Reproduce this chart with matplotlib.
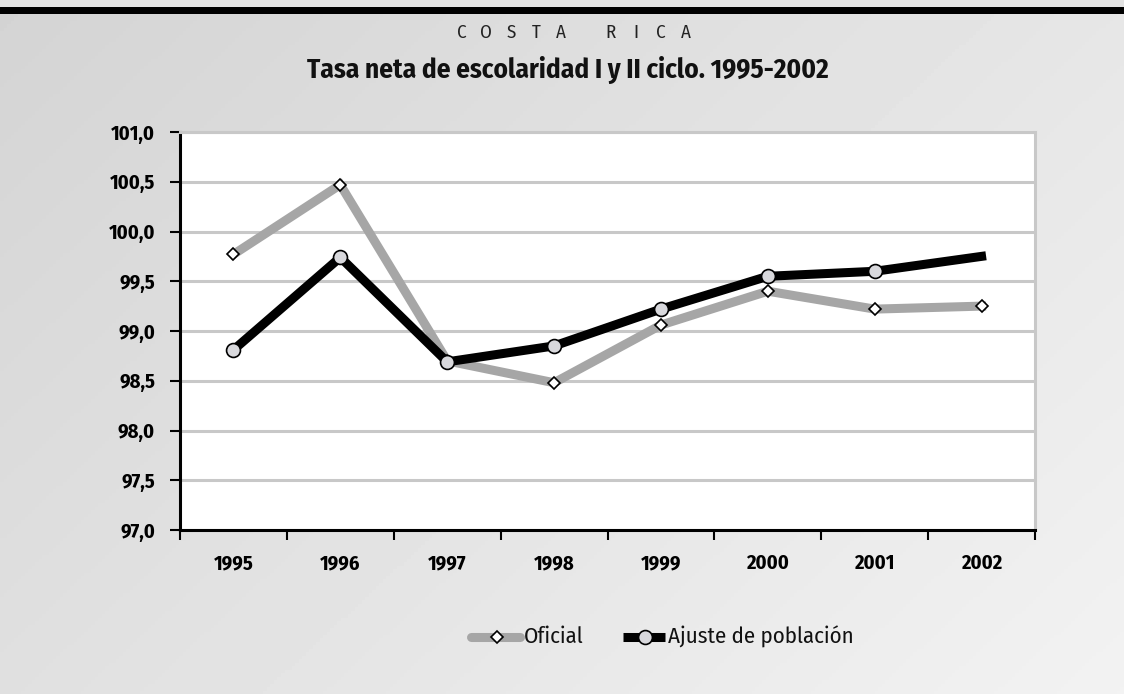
import numpy as np
import matplotlib
matplotlib.use("Agg")
import matplotlib.pyplot as plt
from matplotlib.lines import Line2D
from matplotlib import font_manager
from matplotlib.font_manager import FontProperties
from matplotlib.textpath import TextPath

years = ["1995", "1996", "1997", "1998", "1999", "2000", "2001", "2002"]
oficial = [99.77, 100.47, 98.70, 98.48, 99.06, 99.40, 99.22, 99.25]
ajuste = [98.81, 99.74, 98.69, 98.85, 99.22, 99.55, 99.60, 99.75]
yticks = [97.0, 97.5, 98.0, 98.5, 99.0, 99.5, 100.0, 100.5, 101.0]
ytick_labels = ["97,0", "97,5", "98,0", "98,5", "99,0", "99,5", "100,0", "100,5", "101,0"]
series_names = ["Oficial", "Ajuste de población"]
header = "COSTA RICA"
title = "Tasa neta de escolaridad I y II ciclo. 1995-2002"


def _w(f):
    try:
        return int(f.weight)
    except Exception:
        return {"normal": 400, "regular": 400, "bold": 700}.get(str(f.weight), 400)


entries = font_manager.fontManager.ttflist
def has(fam, w):
    return any(f.name == fam and f.style == "normal" and _w(f) == w for f in entries)

candidates = ["Fira Sans Condensed", "PT Sans Narrow", "Roboto Condensed", "Archivo Narrow",
              "Asap Condensed", "Encode Sans Condensed", "IBM Plex Sans Condensed",
              "Liberation Sans Narrow", "Open Sans"]
COND = next((c for c in candidates if has(c, 400) and has(c, 700)), "Open Sans")
FAM = [COND, "DejaVu Sans"]
plt.rcParams['font.family'] = FAM

DPI = 100
def ink(txt, weight, size):
    tp = TextPath((0, 0), txt, size=size, prop=FontProperties(family=FAM, weight=weight))
    bb = tp.get_extents()
    return bb.width * DPI / 72, bb.height * DPI / 72

def fit_width(txt, weight, target):
    w, _ = ink(txt, weight, 20)
    return 20 * target / w

def fit_height(txt, weight, target):
    _, h = ink(txt, weight, 20)
    return 20 * target / h

title_fs = fit_width(title, "bold", 521)
tick_fs = fit_width("1995", "bold", 39)
legend_fs = fit_width(series_names[1], "normal", 184)
header_fs = fit_height("H", "normal", 13)

fig = plt.figure(figsize=(11.24, 6.94), dpi=DPI)
W_, H_ = 1124, 694
def fx(px): return px / W_
def fy(py): return 1 - py / H_

# background gradient
bg = fig.add_axes([0, 0, 1, 1], zorder=-10)
gh, gw = 200, 320
yy, xx = np.mgrid[0:gh, 0:gw]
t = (xx / gw * 0.6 + yy / gh * 0.4)
grad = 0.83 + 0.12 * t
bg.imshow(grad, cmap="gray", vmin=0, vmax=1, aspect="auto", extent=[0, 1, 0, 1], origin="upper")
bg.set_xlim(0, 1); bg.set_ylim(0, 1)
bg.axis("off")
bg.add_patch(plt.Rectangle((0, fy(14)), 1, 7 / H_, color="black", lw=0))
bg.add_patch(plt.Rectangle((0, fy(7)), 1, 7 / H_, color="#e2e2e2", lw=0))

# spaced header letters
slot = 0
xs0, step = 461.5, 24.9
for ch in header:
    if ch == " ":
        slot += 1.0
        continue
    fig.text(fx(xs0 + step * slot), fy(33), ch, ha="center", va="center",
             fontsize=header_fs, color="#222222")
    slot += 1
fig.text(fx(567.5), fy(70), title, ha="center", va="center",
         fontsize=title_fs, fontweight="bold", color="#111111")

ax = fig.add_axes([fx(180), fy(530), 855 / W_, 398 / H_])
ax.set_facecolor("white")
x = np.arange(len(years))
ax.plot(x, oficial, color="#a6a6a6", lw=6.5, solid_joinstyle="miter", zorder=3)
ax.plot(x, oficial, ls="none", marker="D", ms=6.5, mfc="white", mec="black", mew=1.2, zorder=4)
ax.plot(x, ajuste, color="black", lw=6.5, solid_joinstyle="miter", zorder=5)
ax.plot(x[:-1], ajuste[:-1], ls="none", marker="o", ms=10, mfc="#d8d8dc", mec="black", mew=1.2, zorder=6)

ax.set_xlim(-0.5, len(years) - 0.5)
ax.set_ylim(97.0, 101.0)
ax.set_yticks(yticks)
ax.set_yticklabels(ytick_labels, fontsize=tick_fs, fontweight="bold")
ax.yaxis.grid(True, color="#c8c8c8", lw=2.2)
ax.set_axisbelow(True)
ax.set_xticks(np.arange(len(years) + 1) - 0.5)
ax.set_xticklabels([])
ax.set_xticks(x, minor=True)
ax.set_xticklabels(years, minor=True, fontsize=tick_fs, fontweight="bold")
ax.tick_params(axis="x", which="minor", length=0, pad=17)
ax.tick_params(axis="x", which="major", length=7, width=1.5, direction="out")
ax.tick_params(axis="y", length=7, width=1.5, direction="out", pad=11)
for s in ["left", "bottom"]:
    ax.spines[s].set_color("black")
    ax.spines[s].set_linewidth(2.2)
for s in ["right", "top"]:
    ax.spines[s].set_color("#c8c8c8")
    ax.spines[s].set_linewidth(2.2)

# legend drawn manually in figure coordinates
ly = fy(637)
bg.add_line(Line2D([fx(471), fx(520)], [ly, ly], color="#a6a6a6", lw=6.5, solid_capstyle="round"))
bg.add_line(Line2D([fx(497)], [ly], ls="none", marker="D", ms=6, mfc="white", mec="black", mew=1.2))
fig.text(fx(524), ly, series_names[0], ha="left", va="center", fontsize=legend_fs, color="#111111")
bg.add_line(Line2D([fx(623), fx(665)], [ly, ly], color="black", lw=6.5, solid_capstyle="butt"))
bg.add_line(Line2D([fx(645)], [ly], ls="none", marker="o", ms=10, mfc="#d8d8dc", mec="black", mew=1.2))
fig.text(fx(668), ly, series_names[1], ha="left", va="center", fontsize=legend_fs, color="#111111")

fig.savefig("out.png", dpi=DPI)
